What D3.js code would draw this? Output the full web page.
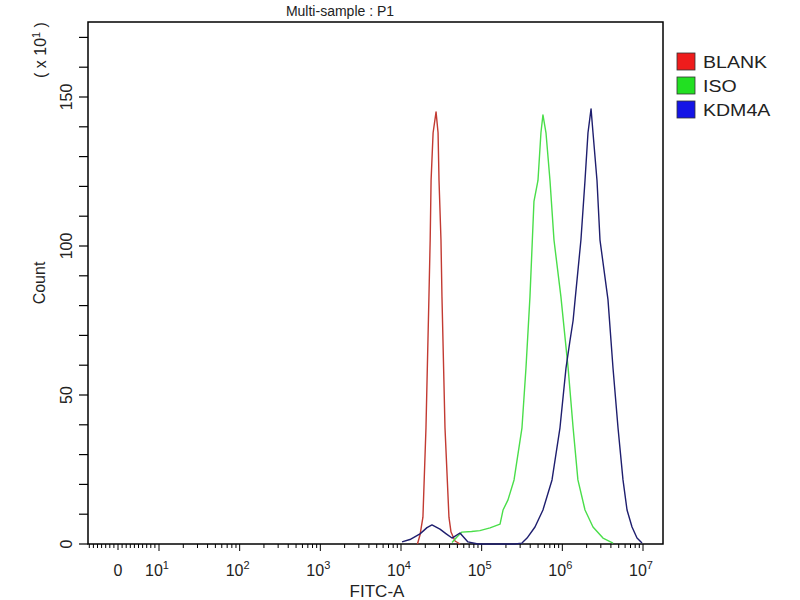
<!DOCTYPE html>
<html>
<head>
<meta charset="utf-8">
<script src="https://cdn.jsdelivr.net/npm/d3@7"></script>
<style>
  body { margin: 0; background: #fff; }
  text { font-family: "Liberation Sans", Arial, sans-serif; fill: #222; }
</style>
</head>
<body>
<script>
// histogram outlines, [FITC-A, count (x10)]
const blank = [[1.6e4, 0], [1.72e4, 3], [1.87e4, 9], [2.04e4, 39], [2.22e4, 83], [2.3e4, 102],
  [2.36e4, 122], [2.5e4, 138], [2.72e4, 145], [2.88e4, 138], [2.96e4, 122], [3.13e4, 102],
  [3.22e4, 83], [3.51e4, 39], [3.93e4, 9], [4.17e4, 4], [4.67e4, 1], [5.4e4, 0]];

const iso = [[4.29e4, 0.5], [5.0e4, 2.5], [5.7e4, 4], [7.5e4, 4.2], [9.5e4, 4.5], [1.27e5, 5.4],
  [1.69e5, 6.7], [1.84e5, 11.4], [2.12e5, 14.8], [2.52e5, 21.5], [3.16e5, 39], [3.54e5, 59],
  [3.97e5, 83], [4.45e5, 115], [4.99e5, 122], [5.43e5, 138], [5.75e5, 144], [6.27e5, 138],
  [7.03e5, 122], [7.88e5, 102], [9.6e5, 83], [1.18e6, 59], [1.36e6, 39], [1.56e6, 21.5],
  [1.91e6, 11.4], [2.4e6, 5.7], [3.19e6, 2], [4.25e6, 0.3]];

const kdm4a = [[1.03e4, 0.7], [1.29e4, 1.5], [1.72e4, 3.4], [2.1e4, 5.5], [2.42e4, 6.4],
  [3.04e4, 5], [3.6e4, 3.5], [4.29e4, 2], [5.38e4, 3.7], [6.76e4, 0.7], [9e4, 0],
  [2.59e5, 0], [3.16e5, 0.3], [3.65e5, 2], [4.58e5, 5.7], [5.75e5, 11.4], [7.45e5, 21.5],
  [9.35e5, 39], [1.11e6, 59], [1.24e6, 68], [1.36e6, 75], [1.44e6, 82], [1.7e6, 102],
  [1.91e6, 122], [2.08e6, 138], [2.27e6, 146], [2.4e6, 138], [2.69e6, 122], [2.93e6, 102],
  [3.68e6, 82], [4.25e6, 59], [4.9e6, 39], [5.65e6, 21.5], [6.34e6, 11.4], [7.31e6, 5.7],
  [8.43e6, 2], [9.72e6, 0.3]];

const seriesNames = ["BLANK", "ISO", "KDM4A"];
const lineColors = ["#c23a32", "#4ade4a", "#1e1e6e"];
const swatchColors = ["#ee1c1c", "#22e022", "#1414e6"];

const yTicks = [0, 50, 100, 150];
const decades = [1, 2, 3, 4, 5, 6, 7];

const width = 800, height = 600;
const plotLeft = 88, plotRight = 663, plotTop = 22, plotBottom = 544;

const svg = d3.select("body").append("svg")
  .attr("width", width)
  .attr("height", height);

// log part of the axis, 10^1 .. 10^7
const x = d3.scaleLog().domain([10, 1e7]).range([159, 643]);
// linear part near zero
const xLin = d3.scaleLinear().domain([0, 10]).range([118, 159]);
const y = d3.scaleLinear().domain([0, 150]).range([plotBottom, 97]);

// frame
svg.append("rect")
  .attr("x", plotLeft).attr("y", plotTop)
  .attr("width", plotRight - plotLeft).attr("height", plotBottom - plotTop)
  .attr("fill", "none").attr("stroke", "#000").attr("stroke-width", 1.5);

// y axis: ticks every 10
const yAxis = svg.append("g");
d3.range(0, 180, 10).forEach(v => {
  if (y(v) < plotTop) return;
  yAxis.append("line")
    .attr("x1", plotLeft - 9).attr("x2", plotLeft)
    .attr("y1", y(v)).attr("y2", y(v))
    .attr("stroke", "#000").attr("stroke-width", 1.2);
});
yTicks.forEach(v => {
  yAxis.append("text")
    .attr("transform", `translate(72,${y(v)}) rotate(-90)`)
    .attr("text-anchor", "middle")
    .attr("font-size", 16)
    .text(v);
});

// x axis ticks
const xAxis = svg.append("g").attr("stroke", "#000").attr("stroke-width", 1);
function tick(px, len) {
  xAxis.append("line")
    .attr("x1", px).attr("x2", px)
    .attr("y1", plotBottom).attr("y2", plotBottom + len);
}
d3.range(-7, 10).forEach(v => tick(xLin(v), v === 0 ? 6 : 4));
decades.forEach((d, i) => {
  tick(x(Math.pow(10, d)), 7);
  if (i < decades.length - 1) {
    for (let m = 2; m < 10; m++) tick(x(m * Math.pow(10, d)), 4);
  }
});

// x tick labels
const xl = svg.append("g").attr("font-size", 16);
xl.append("text").attr("x", xLin(0)).attr("y", 576).attr("text-anchor", "middle").text("0");
decades.forEach(d => {
  const t = xl.append("text").attr("x", x(Math.pow(10, d)) - 2).attr("y", 576)
    .attr("text-anchor", "middle");
  t.append("tspan").text("10");
  t.append("tspan").attr("font-size", 11).attr("dy", -7).text(d);
});

// titles
svg.append("text").attr("x", 340).attr("y", 16).attr("text-anchor", "middle")
  .attr("font-size", 14).text("Multi-sample : P1");
svg.append("text").attr("x", 377).attr("y", 597).attr("text-anchor", "middle")
  .attr("font-size", 17).text("FITC-A");
svg.append("text").attr("transform", "translate(45,283) rotate(-90)")
  .attr("text-anchor", "middle").attr("font-size", 16).text("Count");
const mult = svg.append("text").attr("transform", "translate(46,50) rotate(-90)")
  .attr("text-anchor", "middle").attr("font-size", 16);
mult.append("tspan").text("( x 10");
mult.append("tspan").attr("font-size", 11).attr("dy", -6).text("1");
mult.append("tspan").attr("dy", 6).text(" )");

// histogram lines
const line = d3.line()
  .x(d => x(d[0]))
  .y(d => y(d[1]));

[blank, iso, kdm4a].forEach((s, i) => {
  svg.append("path")
    .datum(s)
    .attr("d", line)
    .attr("fill", "none")
    .attr("stroke", lineColors[i])
    .attr("stroke-width", 1.4)
    .attr("stroke-linejoin", "round");
});

// legend
const legend = svg.append("g").attr("transform", "translate(677,53)");
seriesNames.forEach((name, i) => {
  legend.append("rect")
    .attr("x", 0).attr("y", i * 24)
    .attr("width", 18).attr("height", 17)
    .attr("fill", swatchColors[i])
    .attr("stroke", "#333").attr("stroke-width", 0.8);
  legend.append("text")
    .attr("transform", `translate(26,${i * 24 + 15}) scale(1.15,1)`)
    .attr("font-size", 17)
    .text(name);
});
</script>
</body>
</html>
